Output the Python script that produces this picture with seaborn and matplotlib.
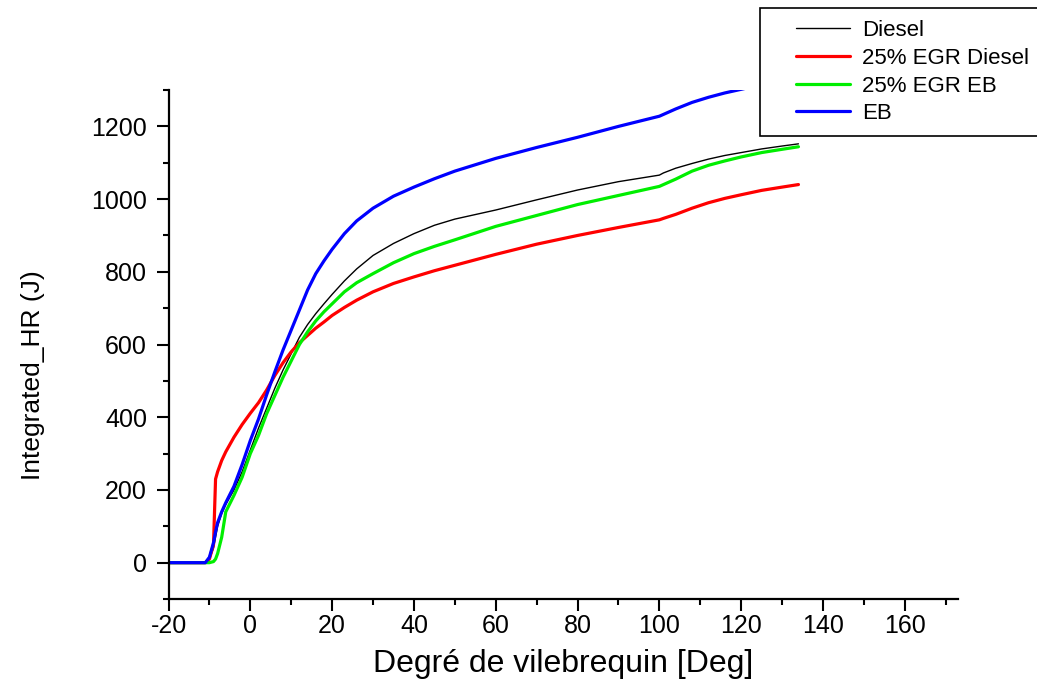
import numpy as np
import pandas as pd
import matplotlib
matplotlib.use("Agg")
import matplotlib.pyplot as plt
from matplotlib.lines import Line2D
from matplotlib.legend_handler import HandlerLine2D
from matplotlib.ticker import MultipleLocator
import seaborn as sns

# Crank angle grid (deg)
crank_angle = [-20, -11, -10, -9, -8.5, -8, -7, -6, -4, -2, 0, 2, 4, 6, 8, 10, 12, 14,
               16, 18, 20, 23, 26, 30, 35, 40, 45, 50, 60, 70, 80, 90, 100, 101, 104,
               108, 112, 116, 120, 125, 130, 134]

# Integrated heat release (J) for each case
hr_diesel = [0, 0, 10, 40, 70, 100, 135, 160, 200, 250, 310, 370, 425, 480, 530, 575,
             620, 655, 685, 712, 738, 775, 808, 845, 878, 905, 928, 945, 970, 998, 1025,
             1048, 1066, 1072, 1085, 1098, 1110, 1120, 1128, 1138, 1146, 1152]
hr_egr_diesel = [0, 0, 10, 50, 230, 250, 281, 305, 345, 380, 411, 440, 475, 515, 550,
                 580, 605, 625, 645, 662, 680, 702, 722, 745, 768, 786, 803, 818, 848,
                 876, 900, 922, 943, 947, 958, 975, 990, 1002, 1012, 1024, 1033, 1040]
hr_egr_eb = [0, 0, 0, 3, 10, 25, 70, 140, 185, 235, 300, 350, 410, 460, 510, 555, 600,
             635, 665, 690, 712, 745, 770, 795, 825, 850, 870, 888, 925, 955, 985, 1010,
             1035, 1040, 1055, 1077, 1093, 1105, 1116, 1128, 1137, 1144]
hr_eb = [0, 0, 15, 55, 85, 110, 140, 165, 210, 270, 336, 395, 462, 525, 585, 640, 695,
         750, 795, 830, 862, 905, 940, 975, 1008, 1033, 1056, 1077, 1112, 1142, 1170,
         1200, 1228, 1233, 1248, 1266, 1280, 1292, 1302, 1315, 1325, 1332]

series_labels = ["Diesel", "25% EGR Diesel", "25% EGR EB", "EB"]
series_values = [hr_diesel, hr_egr_diesel, hr_egr_eb, hr_eb]
series_colors = ["#000000", "#ff0000", "#00ee00", "#0000ff"]
series_widths = [1.0, 2.3, 2.3, 2.3]

x_ticks = [-20, 0, 20, 40, 60, 80, 100, 120, 140, 160]
y_ticks = [0, 200, 400, 600, 800, 1000, 1200]

sns.set_style("ticks")
plt.rcParams["font.family"] = ["Liberation Sans", "DejaVu Sans"]
plt.rcParams["axes.unicode_minus"] = False
plt.rcParams["text.color"] = "black"
plt.rcParams["axes.labelcolor"] = "black"

fig = plt.figure(figsize=(10.37, 6.91), dpi=100)
ax = fig.add_axes([0.1625, 0.1331, 0.7613, 0.7366])

for label, vals, color, lw in zip(series_labels, series_values, series_colors, series_widths):
    df = pd.DataFrame({"angle": crank_angle, "hr": vals})
    sns.lineplot(data=df, x="angle", y="hr", ax=ax, color=color, linewidth=lw,
                 label=label, sort=False, estimator=None, legend=False)

ax.set_xlim(-20, 173)
ax.set_ylim(-100, 1300)
ax.set_xticks(x_ticks)
ax.set_yticks(y_ticks)
ax.xaxis.set_minor_locator(MultipleLocator(10))
ax.yaxis.set_minor_locator(MultipleLocator(100))

for side in ["top", "right"]:
    ax.spines[side].set_visible(False)
for side in ["left", "bottom"]:
    ax.spines[side].set_linewidth(1.6)
    ax.spines[side].set_color("black")

ax.tick_params(axis="both", which="major", direction="out", length=8.5, width=1.5,
               labelsize=18, colors="black")
ax.tick_params(axis="both", which="minor", direction="out", length=4.5, width=1.5,
               colors="black")
ax.tick_params(axis="y", which="major", pad=7)
ax.tick_params(axis="x", which="major", pad=2)

ax.set_xlabel("Degré de vilebrequin [Deg]", fontsize=23, labelpad=8)
ax.set_ylabel("Integrated_HR (J)", fontsize=19)
ax.yaxis.set_label_coords(-0.157, 0.44)

handles = [Line2D([], [], color=c, linewidth=w) for c, w in zip(series_colors, series_widths)]
leg = fig.legend(handles, series_labels, loc="upper left",
                 bbox_to_anchor=(760 / 1037, 1 - 8 / 691), bbox_transform=fig.transFigure,
                 fontsize=16, frameon=True, fancybox=False, framealpha=1,
                 edgecolor="black", borderpad=0.55, borderaxespad=0,
                 handlelength=3.5, handletextpad=0.55, labelspacing=0.3,
                 handler_map={Line2D: HandlerLine2D(xpad=1.05)})
leg.get_frame().set_linewidth(1.2)

fig.savefig("out.png", dpi=100)
